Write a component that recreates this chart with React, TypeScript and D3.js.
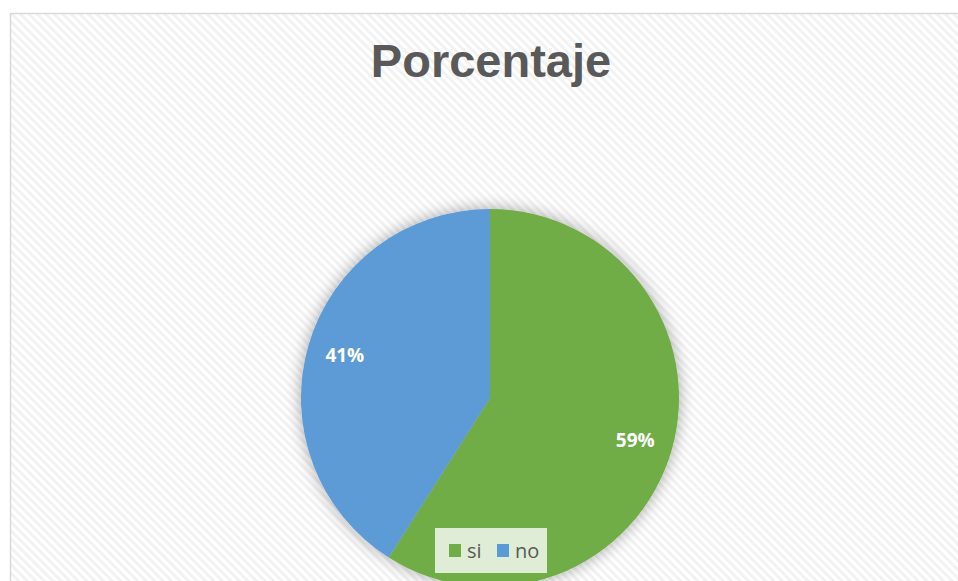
import React from "react";
import * as d3 from "d3";

const categories = ["si", "no"];
const values = [59, 41];
const colors = ["#70AD47", "#5B9BD5"];
const title = "Porcentaje";

const W = 958;
const H = 581;

export default function App() {
  const cx = 490;
  const cy = 398;
  const r = 189;
  const pie = d3.pie<number>().sort(null).value((d) => d);
  const arcs = pie(values);
  const arcGen = d3.arc<d3.PieArcDatum<number>>().innerRadius(0).outerRadius(r);
  const labelArc = d3.arc<d3.PieArcDatum<number>>().innerRadius(r * 0.8).outerRadius(r * 0.8);
  const total = d3.sum(values);

  return (
    <svg
      width={W}
      height={H}
      style={{ position: "absolute", left: 0, top: 0, display: "block" }}
    >
      <defs>
        <pattern id="hatch" width="6" height="6" patternUnits="userSpaceOnUse" patternTransform="rotate(45)">
          <rect width="6" height="6" fill="#ffffff" />
          <rect width="6" height="3" fill="#f2f2f2" />
        </pattern>
        <filter id="shadow" x="-30%" y="-30%" width="160%" height="160%">
          <feGaussianBlur in="SourceAlpha" stdDeviation="8" />
          <feComponentTransfer>
            <feFuncA type="linear" slope="0.35" />
          </feComponentTransfer>
          <feMerge>
            <feMergeNode />
            <feMergeNode in="SourceGraphic" />
          </feMerge>
        </filter>
      </defs>
      <rect x={0} y={0} width={W} height={H} fill="#ffffff" />
      <rect x={10.5} y={13.5} width={W + 10} height={H + 10} fill="url(#hatch)" stroke="#d9d9d9" strokeWidth={1.5} />
      <text
        x={491}
        y={77}
        textAnchor="middle"
        fontFamily="'Liberation Sans', Arial, sans-serif"
        fontWeight="bold"
        fontSize={47}
        fill="#595959"
      >
        {title}
      </text>
      <g transform={`translate(${cx},${cy})`} filter="url(#shadow)">
        {arcs.map((a, i) => (
          <path key={categories[i]} d={arcGen(a) || ""} fill={colors[i]} />
        ))}
      </g>
      <g transform={`translate(${cx},${cy})`}>
        {arcs.map((a, i) => {
          const [lx, ly] = labelArc.centroid(a);
          return (
            <text
              key={"l" + categories[i]}
              x={lx}
              y={ly}
              dy="0.35em"
              textAnchor="middle"
              fontFamily="'Open Sans', sans-serif"
              fontWeight="bold"
              fontSize={19}
              fill="#ffffff"
            >
              {Math.round((values[i] / total) * 100) + "%"}
            </text>
          );
        })}
      </g>
      <g>
        <rect x={435} y={528} width={112} height={45} fill="#ffffff" fillOpacity={0.78} />
        {categories.map((c, i) => {
          const x0 = 449 + i * 48;
          return (
            <g key={"lg" + c}>
              <rect x={x0} y={544} width={12} height={13} fill={colors[i]} />
              <text
                x={x0 + 18}
                y={558}
                fontFamily="'Open Sans', sans-serif"
                fontSize={20}
                fill="#595959"
              >
                {c}
              </text>
            </g>
          );
        })}
      </g>
    </svg>
  );
}
